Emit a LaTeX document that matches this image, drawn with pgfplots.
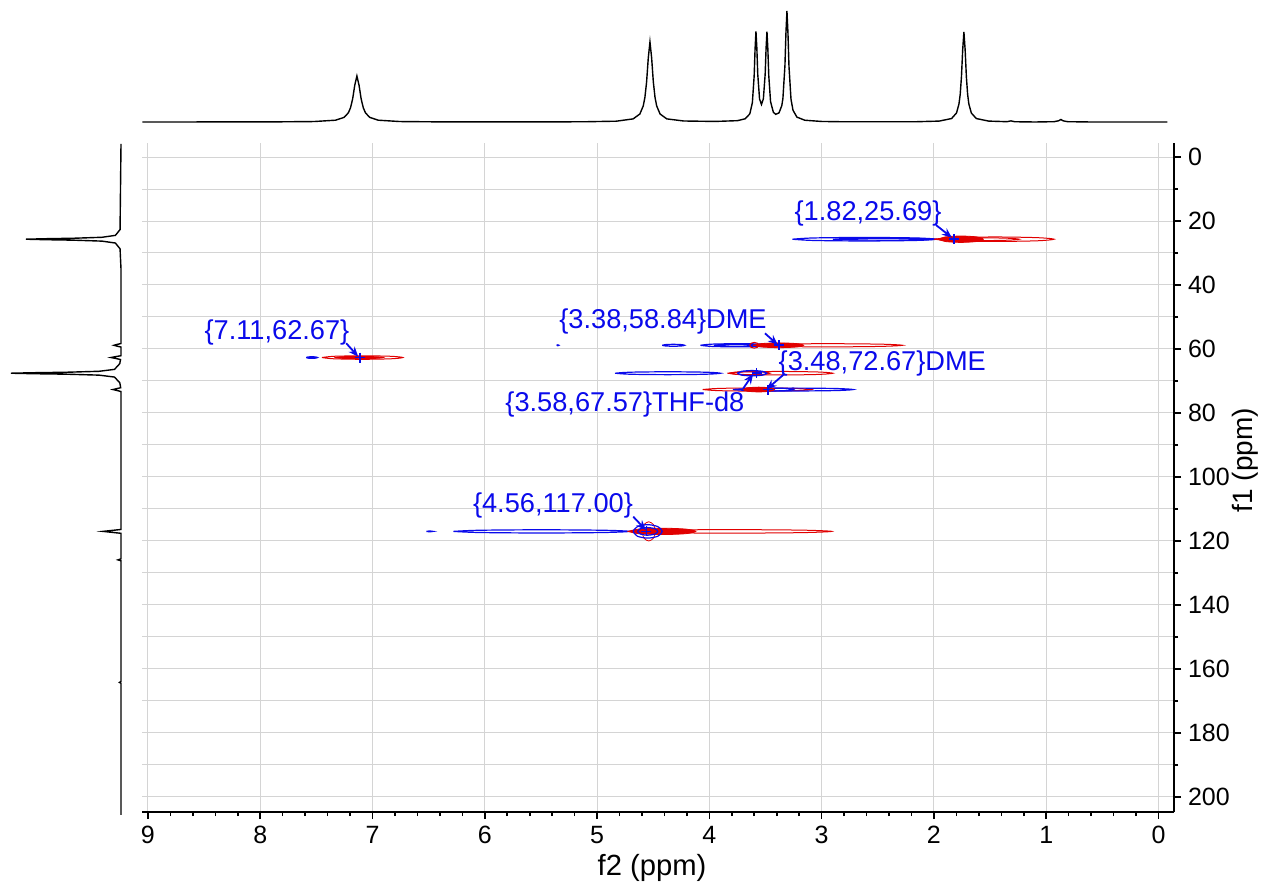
\documentclass[border=0pt]{standalone}
\usepackage{fontspec}
\setmainfont{Liberation Sans}
\usepackage{pgfplots}
\pgfplotsset{compat=1.18}
\usetikzlibrary{arrows.meta}
\definecolor{cblue}{RGB}{10,10,235}
\definecolor{cred}{RGB}{225,0,0}
\definecolor{gridgray}{RGB}{212,212,212}
\begin{document}
\begin{tikzpicture}[x=1pt,y=1pt]
\useasboundingbox (0,0) rectangle (631,442);
% ---------------- main 2D axis ----------------
\begin{axis}[at={(71pt,36pt)}, anchor=south west, scale only axis,
  width=516pt, height=334.5pt,
  xmin=-0.138, xmax=9.053, ymin=-4.375, ymax=204.7,
  x dir=reverse, y dir=reverse,
  axis x line*=bottom, axis y line*=right,
  axis line style={black, line width=1.1pt},
  xtick={0,1,...,9}, minor x tick num=4,
  ytick={0,20,...,200}, minor y tick num=1,
  tick align=outside, major tick length=3.5pt, minor tick length=2pt,
  tick style={black, line width=0.8pt},
  xmajorgrids, ymajorgrids, yminorgrids,
  major grid style={gridgray, line width=0.5pt},
  minor grid style={gridgray, line width=0.5pt},
  ticklabel style={font=\fontsize{12.5}{14}\selectfont},
  /pgf/number format/assume math mode=true,
  scaled ticks=false]
% peak 1 (1.82,25.69)
\addplot[cblue, line width=0.6pt, smooth] coordinates {(3.26,25.69) (3.072,26.08) (2.62,26.24) (2.168,26.08) (1.98,25.69) (2.168,25.30) (2.62,25.14) (3.072,25.30) (3.26,25.69)};
\addplot[cblue, line width=0.6pt, smooth] coordinates {(2.90,25.69) (2.768,25.90) (2.45,25.99) (2.132,25.90) (2.00,25.69) (2.132,25.48) (2.45,25.39) (2.768,25.48) (2.90,25.69)};
\addplot[cred, line width=0.5pt, smooth] coordinates {(1.98,25.69) (1.826,26.19) (1.455,26.39) (1.084,26.19) (0.93,25.69) (1.084,25.20) (1.455,24.99) (1.826,25.20) (1.98,25.69)};
\addplot[cred, line width=0.5pt, smooth] coordinates {(2.00,25.69) (1.889,26.01) (1.62,26.14) (1.351,26.01) (1.24,25.69) (1.351,25.37) (1.62,25.24) (1.889,25.37) (2.00,25.69)};
\addplot[cred, fill=cred, line width=0.4pt, smooth] coordinates {(1.96,25.69) (1.901,26.40) (1.76,26.69) (1.619,26.40) (1.56,25.69) (1.619,24.98) (1.76,24.69) (1.901,24.98) (1.96,25.69)};
% peak 2 (7.11,62.67)
\addplot[cred, line width=0.5pt, smooth] coordinates {(7.45,62.67) (7.345,63.06) (7.09,63.22) (6.835,63.06) (6.73,62.67) (6.835,62.28) (7.09,62.12) (7.345,62.28) (7.45,62.67)};
\addplot[cred, fill=cred, line width=0.4pt, smooth] coordinates {(7.34,62.67) (7.276,62.92) (7.12,63.02) (6.964,62.92) (6.90,62.67) (6.964,62.42) (7.12,62.32) (7.276,62.42) (7.34,62.67)};
\addplot[cblue, line width=0.6pt, smooth] coordinates {(7.59,62.67) (7.575,62.85) (7.54,62.92) (7.505,62.85) (7.49,62.67) (7.505,62.49) (7.54,62.42) (7.575,62.49) (7.59,62.67)};
% peak 3 (3.38,58.84)
\addplot[cblue, line width=0.6pt] coordinates {(5.36,58.84) (5.35,58.99) (5.34,58.84) (5.35,58.69) (5.36,58.84)};
\addplot[cblue, line width=0.6pt, smooth] coordinates {(4.42,58.84) (4.391,59.05) (4.32,59.14) (4.249,59.05) (4.22,58.84) (4.249,58.63) (4.32,58.54) (4.391,58.63) (4.42,58.84)};
\addplot[cblue, line width=0.6pt, smooth] coordinates {(4.08,58.84) (3.98,59.19) (3.74,59.34) (3.50,59.19) (3.40,58.84) (3.50,58.49) (3.74,58.34) (3.98,58.49) (4.08,58.84)};
\addplot[cblue, line width=0.6pt, smooth] coordinates {(3.96,58.84) (3.901,59.05) (3.76,59.14) (3.619,59.05) (3.56,58.84) (3.619,58.63) (3.76,58.54) (3.901,58.63) (3.96,58.84)};
\addplot[cred, line width=0.5pt, smooth] coordinates {(3.61,58.84) (3.415,59.19) (2.945,59.34) (2.475,59.19) (2.28,58.84) (2.475,58.49) (2.945,58.34) (3.415,58.49) (3.61,58.84)};
\addplot[cred, fill=cred, line width=0.4pt, smooth] coordinates {(3.60,58.84) (3.536,59.37) (3.38,59.59) (3.224,59.37) (3.16,58.84) (3.224,58.31) (3.38,58.09) (3.536,58.31) (3.60,58.84)};
\addplot[cred, line width=0.5pt, smooth] coordinates {(3.64,58.84) (3.628,59.48) (3.60,59.74) (3.572,59.48) (3.56,58.84) (3.572,58.20) (3.60,57.94) (3.628,58.20) (3.64,58.84)};
% peak 4 (3.58,67.57)
\addplot[cblue, line width=0.6pt, smooth] coordinates {(4.84,67.57) (4.702,67.89) (4.37,68.02) (4.038,67.89) (3.90,67.57) (4.038,67.25) (4.37,67.12) (4.702,67.25) (4.84,67.57)};
\addplot[cred, line width=0.5pt, smooth] coordinates {(3.84,67.57) (3.702,67.96) (3.37,68.12) (3.038,67.96) (2.90,67.57) (3.038,67.18) (3.37,67.02) (3.702,67.18) (3.84,67.57)};
\addplot[cred, line width=0.5pt, smooth] coordinates {(3.82,67.57) (3.767,67.92) (3.64,68.07) (3.513,67.92) (3.46,67.57) (3.513,67.22) (3.64,67.07) (3.767,67.22) (3.82,67.57)};
\addplot[cblue, line width=0.7pt, smooth] coordinates {(3.75,67.57) (3.712,68.14) (3.62,68.37) (3.528,68.14) (3.49,67.57) (3.528,67.00) (3.62,66.77) (3.712,67.00) (3.75,67.57)};
% peak 5 (3.48,72.67)
\addplot[cred, line width=0.5pt, smooth] coordinates {(4.06,72.67) (3.918,73.02) (3.575,73.17) (3.232,73.02) (3.09,72.67) (3.232,72.32) (3.575,72.17) (3.918,72.32) (4.06,72.67)};
\addplot[cblue, line width=0.6pt, smooth] coordinates {(3.79,72.67) (3.633,72.99) (3.255,73.12) (2.877,72.99) (2.72,72.67) (2.877,72.35) (3.255,72.22) (3.633,72.35) (3.79,72.67)};
\addplot[cblue, line width=0.6pt, smooth] coordinates {(3.65,72.67) (3.591,72.99) (3.45,73.12) (3.309,72.99) (3.25,72.67) (3.309,72.35) (3.45,72.22) (3.591,72.35) (3.65,72.67)};
\addplot[cred, fill=cred, line width=0.4pt, smooth] coordinates {(3.70,72.67) (3.659,73.20) (3.56,73.42) (3.461,73.20) (3.42,72.67) (3.461,72.14) (3.56,71.92) (3.659,72.14) (3.70,72.67)};
% peak 6 (4.56,117.00)
\addplot[cblue, line width=0.6pt, smooth] coordinates {(6.28,117) (6.05,117.35) (5.495,117.5) (4.94,117.35) (4.71,117) (4.94,116.65) (5.495,116.5) (6.05,116.65) (6.28,117)};
\addplot[cblue, line width=0.6pt] coordinates {(6.52,117) (6.49,117.15) (6.46,117) (6.49,116.85) (6.52,117)};
\addplot[cred, line width=0.5pt, smooth] coordinates {(4.73,117) (4.463,117.39) (3.82,117.55) (3.177,117.39) (2.91,117) (3.177,116.61) (3.82,116.45) (4.463,116.61) (4.73,117)};
\addplot[cred, fill=cred, line width=0.4pt, smooth] coordinates {(4.72,117) (4.632,117.71) (4.42,118) (4.208,117.71) (4.12,117) (4.208,116.29) (4.42,116) (4.632,116.29) (4.72,117)};
\addplot[cred, line width=0.4pt, smooth] coordinates {(4.60,117) (4.582,119.12) (4.54,120) (4.498,119.12) (4.48,117) (4.498,114.88) (4.54,114) (4.582,114.88) (4.60,117)};
\addplot[cblue, line width=0.6pt, smooth] coordinates {(4.68,117) (4.642,118.49) (4.55,119.1) (4.458,118.49) (4.42,117) (4.458,115.52) (4.55,114.9) (4.642,115.52) (4.68,117)};
\addplot[cblue, line width=0.6pt, smooth] coordinates {(4.64,117) (4.614,117.85) (4.55,118.2) (4.486,117.85) (4.46,117) (4.486,116.15) (4.55,115.8) (4.614,116.15) (4.64,117)};
% peak markers
\addplot[only marks, mark=+, mark size=2.5pt, cblue, line width=0.8pt] coordinates {(1.82,25.69) (7.11,62.67) (3.38,58.84) (3.58,67.57) (3.48,72.67) (4.56,117.00)};
% annotation arrows
\begin{scope}[cblue, line width=0.9pt, -{Stealth[length=5pt,width=4pt]}]
\draw (axis cs:1.98,21.3) -- (axis cs:1.84,25.2);
\draw (axis cs:7.234,58.2) -- (axis cs:7.127,62.4);
\draw (axis cs:3.505,55.1) -- (axis cs:3.39,58.7);
\draw (axis cs:3.698,72.3) -- (axis cs:3.61,67.8);
\draw (axis cs:3.342,68.1) -- (axis cs:3.49,72.6);
\draw (axis cs:4.678,112.4) -- (axis cs:4.565,116.6);
\end{scope}
\begin{scope}[every node/.style={text=cblue, font=\fontsize{13.6}{15}\selectfont, inner sep=0pt}]
\node at (axis cs:2.587,17.6) {\{1.82,25.69\}};
\node at (axis cs:7.851,54.9) {\{7.11,62.67\}};
\node at (axis cs:4.413,51.5) {\{3.38,58.84\}DME};
\node at (axis cs:4.752,77.2) {\{3.58,67.57\}THF-d8};
\node at (axis cs:2.460,64.6) {\{3.48,72.67\}DME};
\node at (axis cs:5.393,108.8) {\{4.56,117.00\}};
\end{scope}
\end{axis}
% ---------------- top 1H projection ----------------
\begin{axis}[at={(71pt,377pt)}, anchor=south west, scale only axis,
  width=516pt, height=65pt, xmin=-0.138, xmax=9.053, x dir=reverse,
  ymin=-8, ymax=122, hide axis, clip=false]
\addplot[black, line width=0.7pt] coordinates {
(9.05,0) (7.90,0.1) (7.52,0.46) (7.329,1.8) (7.253,4.6) (7.215,9.2) (7.196,14.2) (7.177,23) (7.158,36.8) (7.139,46) (7.120,36.8) (7.101,23) (7.082,14.2) (7.063,9.2) (7.025,4.6) (6.949,1.8) (6.759,0.46) (6.38,0.1)
(5.129,0.2) (4.829,0.8) (4.679,3.1) (4.619,8) (4.589,16) (4.574,24.6) (4.559,40) (4.544,64) (4.529,80) (4.514,64) (4.499,40) (4.484,24.6) (4.469,16) (4.439,8) (4.379,3.1) (4.229,1.0)
(3.95,0.55) (3.75,1.32) (3.68,3.27) (3.64,8.1) (3.617,19.3) (3.601,46.1) (3.593,72.8) (3.585,90.7) (3.577,73.6) (3.569,47.7) (3.553,23.0) (3.536,17.55) (3.519,23.1) (3.503,47.7) (3.495,73.3) (3.487,90.4) (3.479,72.8) (3.471,46.5) (3.455,20.3) (3.43,9.7) (3.409,7.7) (3.38,9.1) (3.355,16.3) (3.345,23.5) (3.327,56.2) (3.318,89.1) (3.309,111) (3.300,88.9) (3.291,55.9) (3.273,22.75) (3.255,11.7) (3.22,4.86) (3.15,1.76) (3.0,0.53) (2.8,0.22)
(2.173,0.22) (1.953,0.9) (1.843,3.46) (1.799,9) (1.777,18) (1.766,27.7) (1.755,45) (1.744,72) (1.733,90) (1.722,72) (1.711,45) (1.700,27.7) (1.689,18) (1.667,9) (1.623,3.46) (1.513,0.9)
(1.35,0.3) (1.314,1.1) (1.28,0.25) (1.10,0) (0.93,0.3) (0.89,1.2) (0.869,2.5) (0.85,1.2) (0.81,0.3) (0.6,0) (-0.08,0)};
\end{axis}
% ---------------- left 13C projection ----------------
\begin{axis}[at={(0pt,36pt)}, anchor=south west, scale only axis,
  width=62pt, height=334.5pt, xmin=-3, xmax=121, x dir=reverse,
  ymin=-4.375, ymax=204.7, y dir=reverse, hide axis, clip=false]
\addplot[black, line width=0.7pt] coordinates {
(0,-4.1) (0.95,22.69) (5.6,24.49) (19,25.09) (47.5,25.39) (76,25.54) (95,25.69) (76,25.84) (47.5,25.99) (19,26.29) (5.6,26.89) (0.95,28.69) (0,35)
(0,58.3) (3.5,58.54) (7,58.84) (3.5,59.14) (0,59.4)
(0,62.1) (5,62.37) (10,62.67) (5,62.97) (0.5,63.3)
(1.2,64.57) (6.5,66.37) (22,66.97) (55,67.27) (88,67.42) (110,67.57) (88,67.72) (55,67.87) (22,68.17) (6.5,68.77) (1.2,70.57) (0.3,72.1)
(4,72.37) (8,72.67) (4,72.97) (0,73.3)
(0,116.4) (9,116.7) (18,117.0) (9,117.3) (0,117.6)
(0,125.6) (3,125.9) (0,126.2)
(0,163.9) (1.5,164.2) (0,164.5) (0,205.6)};
\end{axis}
% axis titles
\node[font=\fontsize{14.6}{16}\selectfont] at (326,8) {f2 (ppm)};
\node[font=\fontsize{14}{16}\selectfont, rotate=90] at (622.5,212) {f1 (ppm)};
\end{tikzpicture}
\end{document}
